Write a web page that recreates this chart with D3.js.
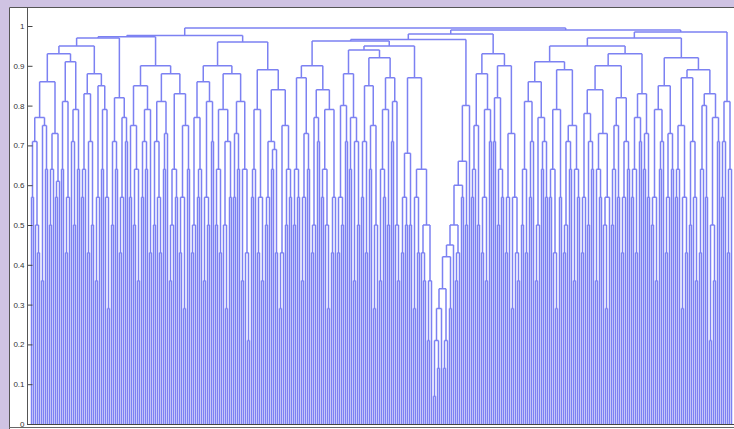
<!DOCTYPE html>
<html lang="en">
<head>
<meta charset="UTF-8">
<title>Dendrogram</title>
<script src="https://d3js.org/d3.v7.min.js"></script>
<style>
  body { margin: 0; background: #cfc3e3; }
  svg { display: block; }
</style>
</head>
<body>
<svg id="chart" width="734" height="429"></svg>
<script>
// cluster pieces, left to right ("x" = leaf, number after ")" = merge height x100)
const R1  = "((((x,x)57,(x,(x,x)43)50)71,((x,x)36,(x,x)64)75)77,(((x,x)50,x)64,((x,x)57,x)61)73)86";
const R2  = "(((x,x)64,((x,x)43,x)57)81,((x,(x,x)50)71,(x,x)64)79)91";
const R3  = "((((x,x)57,x)64,((x,x)43,(x,x)50)71)83,(((x,x)36,x)57,((x,x)64,(x,(x,x)29)57)79)85)88";
const R4  = "(((x,x)50,(x,x)64)71,(((x,x)43,x)57,(x,x)71)77)82";
const R5a = "(((x,x)57,((x,x)50,(x,x)36)64)75,(((x,x)57,(x,x)64)71,(x,x)43)79)85";
const R5b = "((((x,x)50,(x,(x,x)43)57)71,((x,x)64,x)73)81,((((x,x)36,x)50,(x,x)57)64,(((x,x)43,(x,x)29)57,(x,x)64)75)83)88";
const R6a = "((((x,x)43,x)50,((x,x)57,x)64)77,(((x,x)36,(x,x)50)57,(x,x)71)81)86";
const R6b = "((((x,x)50,(x,x)43)64,((x,(x,x)29)50,(x,x)57)71)79,(((x,x)57,(x,x)64)73,((x,x)36,(x,(x,x)21)43)64)81)88";
const R7  = "((((x,x)57,x)64,((x,x)43,(x,x)36)57)79,((((x,x)50,x)57,((x,x)64,(x,x)43)69)71,(((x,x)29,x)43,((x,x)50,(x,x)57)64)75)84)89";
const R8  = "((((x,x)50,(x,x)57)64,(((x,x)36,x)57,(x,x)64)73)87,((((x,x)43,x)50,(x,x)71)77,(((x,x)57,(x,(x,x)29)50)64,((x,x)43,x)57)79)84)90";
const R9a = "((((x,x)43,(x,x)50)57,(x,x)71)80,((x,x)64,((x,x)36,(x,x)50)71)77)88";
const R9b = "((((x,x)57,(x,x)43)71,((x,x)64,((x,x)29,x)50)75)85,((((x,x)36,(x,x)57)64,(x,x)50)79,((x,x)71,(x,(x,x)36)50)81)87)92";
const R10a = "((((x,x)43,(x,x)50)57,(x,x)50)68,(((x,x)29,(x,x)43)57,((x,(x,x)36)43,((x,x)21,x)36)50)64)87";
const R10b = "((((((((((x,x)07,(x,x)14)21,x)29,((x,x)14,x)21)34,(x,x)29)42,x)45,((x,x)36,x)43)50,(x,x)57)60,(x,x)50)66,x)80";
const R11 = "(((((x,x)57,x)64,(x,x)50)75,(((x,x)43,(x,x)36)57,(x,x)71)79)88,(((x,x)71,((x,x)50,(x,x)57)64)82,(((x,x)43,x)57,((x,x)29,(x,(x,x)36)43)57)73)90)93";
const R12a = "((((x,x)50,(x,x)43)64,((x,x)57,x)71)81,(((x,x)36,x)50,((x,x)64,(x,x)57)71)77)86";
const R12b = "((((x,x)57,(x,(x,x)29)43)64,(x,x)57)79,((((x,x)43,x)50,(x,x)64)71,((x,x)36,(x,x)57)64)75)89";
const R13a = "((((x,x)43,x)57,((x,x)50,(x,x)64)71)78,(((x,x)36,(x,x)57)64,((x,(x,x)29)50,x)57)73)84";
const R13b = "((((x,x)50,x)64,(x,x)57)75,(((x,x)43,x)57,(x,x)64)71)82";
const R13c = "((((x,x)57,(x,x)43)64,(x,x)71)77,((x,x)64,(x,x)57)73)83";
const R14a = "((((x,x)50,(x,x)36)57,((x,x)64,x)71)79,(((x,x)43,x)57,(x,x)64)73)85";
const R14b = "(((((x,x)57,x)64,((x,x)29,(x,x)43)57)75,((x,x)50,(x,(x,x)36)57)71)87,((((x,x)43,x)64,(x,x)57)80,(((x,x)21,(x,x)36)50,(x,x)71)77)83)89";
const R15 = "(((x,x)57,x)71,((x,x)43,x)64)81";

// upper joins
const leftHalf = `((((${R1},${R2})93,${R3})95,${R4})97,(${R5a},${R5b})90)97.3`;
const midLeft  = `((${R6a},${R6b})90,${R7})96`;
const groupD   = `(((${R8},((${R9a},${R9b})94,${R10a})95)96.2,${R10b})96.6,${R11})98`;
const groupF   = `((((${R12a},${R12b})91,((${R13a},${R13b})90,${R13c})93)95,(${R14a},${R14b})92)97,${R15})98.5`;
const fullTree = `((${leftHalf},${midLeft})97.6,(${groupD},${groupF})99)99.5`;

const yTicks = [0, 0.1, 0.2, 0.3, 0.4, 0.5, 0.6, 0.7, 0.8, 0.9, 1];

function parse(s) {
    let i = 0;
    function node() {
        if (s[i] === "(") {
            i++;
            const ch = [node()];
            while (s[i] === ",") { i++; ch.push(node()); }
            i++; // ")"
            const j = i;
            while (i < s.length && /[0-9.]/.test(s[i])) i++;
            return { h: +s.slice(j, i) / 100, children: ch };
        }
        i++;
        return { h: 0 };
    }
    return node();
}

const svg = d3.select("#chart");

// panel
svg.append("rect").attr("x", 9).attr("y", 7).attr("width", 725).attr("height", 422).attr("fill", "#fff");
svg.append("path").attr("d", "M9.5,429V7.5H734").attr("fill", "none").attr("stroke", "#555");

const root = d3.hierarchy(parse(fullTree));
const leaves = root.leaves();
leaves.forEach((d, k) => d.k = k);

const x = d3.scaleLinear().domain([0, leaves.length - 1]).range([31.5, 731.5]);
const y = d3.scaleLinear().domain([0, 1]).range([424, 26]);

root.eachAfter(d => {
    if (d.children) d.x = d3.mean(d.children, c => c.x);
    else d.x = x(d.k);
});

const g = svg.append("g");
const links = root.descendants().filter(d => d.children);
g.selectAll("path")
    .data(links)
    .enter().append("path")
    .attr("d", d => {
        const kids = d.children;
        const yy = y(d.data.h);
        let p = "";
        kids.forEach(c => { p += `M${c.x},${y(c.data.h)}V${yy}`; });
        p += `M${d3.min(kids, c => c.x)},${yy}H${d3.max(kids, c => c.x)}`;
        return p;
    })
    .attr("fill", "none")
    .attr("stroke", "#7c81f2")
    .attr("stroke-width", 1.5);

// axes
const yAxis = d3.axisLeft(y).tickValues(yTicks).tickSizeInner(-5).tickSizeOuter(0).tickPadding(3)
    .tickFormat(d => d === 0 ? "0" : d === 1 ? "1" : d3.format(".1f")(d));
const ay = svg.append("g").attr("transform", "translate(27.5,0)").call(yAxis);
ay.select(".domain").remove();
ay.selectAll("line").attr("stroke", "#444");
ay.selectAll("text").attr("font-family", "Liberation Sans, Arial, sans-serif").attr("font-size", 8).attr("fill", "#333");
svg.append("line").attr("x1", 27.5).attr("x2", 27.5).attr("y1", 8).attr("y2", 424.5).attr("stroke", "#555");
svg.append("line").attr("x1", 27).attr("x2", 734).attr("y1", 424.5).attr("y2", 424.5).attr("stroke", "#444");
svg.append("line").attr("x1", 9).attr("x2", 734).attr("y1", 427.5).attr("y2", 427.5).attr("stroke", "#666");
</script>
</body>
</html>
